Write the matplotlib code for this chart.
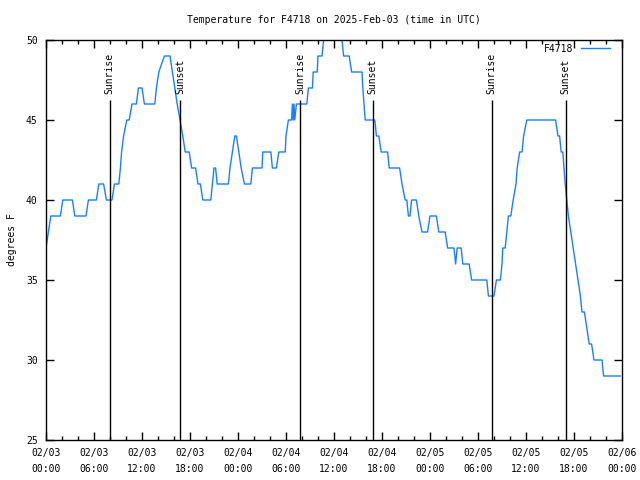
import numpy as np
import pandas as pd
import matplotlib
matplotlib.use('Agg')
import matplotlib.pyplot as plt
import matplotlib.dates as mdates

plt.rcParams['font.family'] = ['DejaVu Sans Mono']
plt.rcParams['font.size'] = 7

START = pd.Timestamp('2025-02-03 00:00')

# Readings: hours since start, temperature (F)
hours = [
    0.0, 0.3, 0.6, 1.8, 2.1, 3.3, 3.6, 5.0, 5.3, 6.3, 6.6, 7.2, 7.55, 8.25, 8.55,
    9.1, 9.3, 9.45, 9.7, 10.1, 10.4, 10.75, 11.3, 11.55, 12.0, 12.3, 13.6, 13.8,
    14.1, 14.8, 15.5, 15.8, 16.1, 16.4, 16.75, 17.1, 17.4, 17.9, 18.2, 18.7, 19.0,
    19.3, 19.6, 20.6, 20.8, 21.0, 21.2, 21.4, 22.8, 23.0, 23.3, 23.6, 23.8, 24.1,
    24.4, 24.8, 25.6, 25.8, 27.0, 27.1, 28.1, 28.3, 28.8, 29.1, 29.9, 30.0, 30.3,
    30.7, 30.8, 30.9, 31.0, 31.1, 31.3, 32.6, 32.8, 33.3, 33.4, 33.9, 34.0, 34.5,
    34.7, 35.0, 36.8, 37.0, 37.2, 37.9, 38.2, 39.5, 39.6, 39.75, 39.9, 41.1, 41.3,
    41.6, 41.9, 42.7, 42.9, 44.2, 44.5, 44.9, 45.1, 45.3, 45.5, 45.7, 46.3, 46.6,
    47.0, 47.7, 48.0, 48.8, 49.1, 49.9, 50.2, 51.0, 51.2, 51.4, 51.9, 52.1, 52.9,
    53.2, 55.1, 55.3, 56.0, 56.3, 56.8, 57.0, 57.1, 57.4, 57.6, 57.8, 58.1, 58.4,
    58.75, 58.9, 59.2, 59.5, 59.7, 60.1, 63.7, 64.0, 64.2, 64.4, 64.6, 64.75, 64.9,
    65.1, 65.3, 65.6, 65.9, 66.2, 66.5, 66.8, 67.0, 67.3, 67.6, 67.9, 68.2, 68.5,
    69.5, 69.7, 71.8,
]
temps = [
    37, 38, 39, 39, 40, 40, 39, 39, 40, 40, 41, 41, 40, 40, 41,
    41, 42, 43, 44, 45, 45, 46, 46, 47, 47, 46, 46, 47,
    48, 49, 49, 48, 47, 46, 45, 44, 43, 43, 42, 42, 41,
    41, 40, 40, 41, 42, 42, 41, 41, 42, 43, 44, 44, 43,
    42, 41, 41, 42, 42, 43, 43, 42, 42, 43, 43, 44, 45,
    45, 46, 45, 46, 45, 46, 46, 47, 47, 48, 48, 49, 49,
    50, 51, 51, 50, 49, 49, 48, 48, 47, 46, 45, 45, 44,
    44, 43, 43, 42, 42, 41, 40, 40, 39, 39, 40, 40, 39,
    38, 38, 39, 39, 38, 38, 37, 37, 36, 37, 37, 36, 36,
    35, 35, 34, 34, 35, 35, 36, 37, 37, 38, 39, 39, 40,
    41, 42, 43, 43, 44, 45, 45, 44, 44, 43, 43, 42, 41,
    40, 39, 38, 37, 36, 35, 34, 33, 33, 32, 31, 31, 30,
    30, 29, 29,
]

sun_hours = [7.95, 16.8, 31.75, 40.85, 55.7, 64.95]
sun_labels = ['Sunrise', 'Sunset', 'Sunrise', 'Sunset', 'Sunrise', 'Sunset']

station = 'F4718'
line_color = '#1a7fff'

times = START + pd.to_timedelta(hours, unit='h')
sun_times = START + pd.to_timedelta(sun_hours, unit='h')

fig = plt.figure(figsize=(6.4, 4.8), dpi=100)
ax = fig.add_axes([46 / 640, 40 / 480, 576 / 640, 400 / 480])

ax.plot(times, temps, color=line_color, linewidth=1.0, label=station)

marker_top = 46.25
for t, lab in zip(sun_times, sun_labels):
    ax.vlines(t, 25, marker_top, color='black', linewidth=1.0)
    ax.text(t, marker_top + 0.4, lab, rotation=90, ha='center', va='bottom')

ax.set_xlim(START, START + pd.Timedelta(hours=72))
ax.set_ylim(25, 50)
ax.set_yticks([25, 30, 35, 40, 45, 50])

ax.xaxis.set_major_locator(mdates.HourLocator(byhour=range(0, 24, 6)))
ax.xaxis.set_minor_locator(mdates.HourLocator(byhour=range(0, 24, 2)))
ax.xaxis.set_major_formatter(mdates.DateFormatter('%m/%d\n%H:%M'))
for lbl in ax.get_xticklabels():
    lbl.set_linespacing(1.7)

ax.tick_params(which='both', direction='in', top=True, right=True, width=1.0)
ax.tick_params(which='major', length=6, pad=6)
ax.tick_params(which='minor', length=3)
for s in ax.spines.values():
    s.set_linewidth(1.0)

ax.set_ylabel('degrees F')
ax.yaxis.set_label_coords(-29 / 576, 0.5)
ax.set_title('Temperature for F4718 on 2025-Feb-03 (time in UTC)', fontsize=7, pad=12)

ax.legend(loc='upper right', bbox_to_anchor=(1.0, 1.0 + 8 / 400), frameon=False,
          markerfirst=False, handlelength=3.0, borderaxespad=0.8, handletextpad=0.8)

fig.savefig('out.png', dpi=100)
